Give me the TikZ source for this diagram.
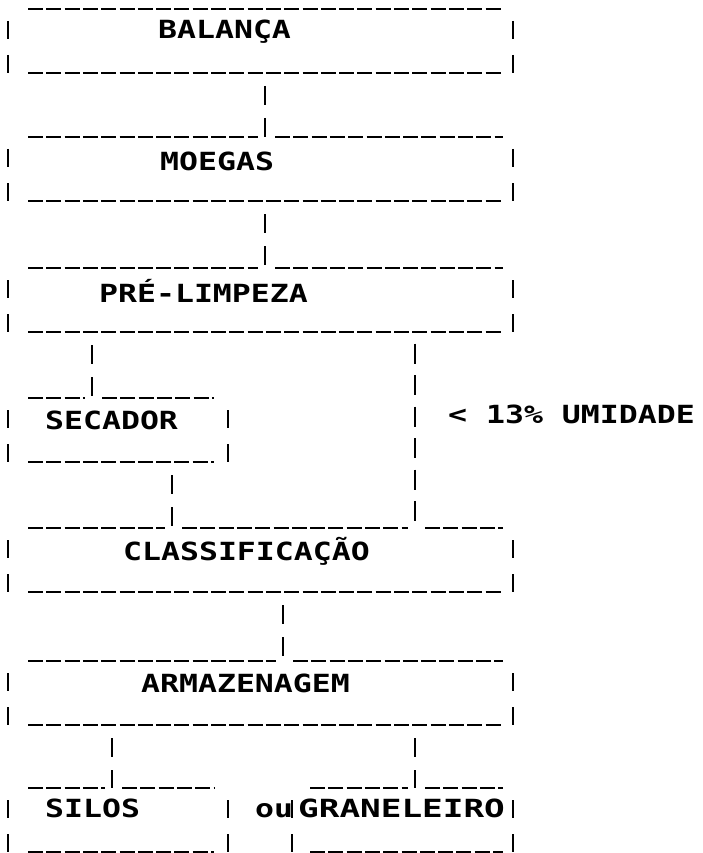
\documentclass[tikz,border=0pt]{standalone}
\usepackage{fontspec}
\newfontfamily\dotm[FakeStretch=1.26]{DejaVu Sans Mono}
\usetikzlibrary{calc}
\begin{document}
\begin{tikzpicture}[x=1pt,y=-1pt,
  us/.style={line width=2.5pt, dash pattern=on 15pt off 3.3pt},
  side/.style={line width=2.8pt, dash pattern=on 18pt off 16pt on 18pt off 12pt, dash phase=52pt},
  conn/.style={line width=2.8pt, dash pattern=on 19pt off 13pt, dash phase=19pt},
  longconn/.style={line width=2.8pt, dash pattern=on 20pt off 11.5pt, dash phase=20pt},
  boxn/.style={draw=none, inner sep=0pt, outer sep=0pt, minimum height=64pt},
  wide/.style={boxn, minimum width=505pt},
  half/.style={boxn, minimum width=220pt},
  txt/.style={inner sep=0pt, anchor=base west, font=\dotm\bfseries\fontsize{25}{25}\selectfont}
]
\useasboundingbox (0,0) rectangle (703,853);

% box nodes
\node[wide] (bal) at (260.5,41) {};
\node[wide] (moe) at (260.5,169) {};
\node[wide] (pre) at (260.5,300) {};
\node[half] (sec) at (118,430) {};
\node[wide] (cls) at (260.5,560) {};
\node[wide] (arm) at (260.5,693) {};
\node[half] (sil) at (118,820) {};
\node[boxn, minimum width=221pt] (gra) at (402.5,820) {};

% connector columns
\coordinate (kA) at (265,0);
\coordinate (kB) at (92,0);
\coordinate (kR) at (415,0);
\coordinate (kC) at (172,0);
\coordinate (kE) at (283,0);
\coordinate (kF) at (112,0);
\coordinate (kG) at (415,0);

% texts
\node[txt] (balT) at (158,39) {BALANÇA};
\node[txt] (moeT) at (160,171) {MOEGAS};
\node[txt] (preT) at (99,302) {PRÉ-LIMPEZA};
\node[txt] (secT) at (45,429) {SECADOR};
\node[txt] (umid) at (448,423) {< 13\% UMIDADE};
\node[txt] (clsT) at (123,560) {CLASSIFICAÇÃO};
\node[txt] (armT) at (141,692) {ARMAZENAGEM};
\node[txt] (silT) at (45,817) {SILOS};
\node[txt] (ouT) at (255,817) {ou};
\node[txt] (graT) at (298,817) {\scalebox{1.09}[1]{GRANELEIRO}};

% sides
\foreach \b in {bal,moe,pre,sec,cls,arm,sil,gra}{
  \draw[side] (\b.north west) -- (\b.south west);
  \draw[side] (\b.north east) -- (\b.south east);
}

% top lines
\draw[us] ($(bal.north west)+(20,0)$) -- ($(bal.north east)+(-10,0)$);
\draw[us] ($(moe.north west)+(20,0)$) -- ($(moe.north -| kA)+(-7,0)$);
\draw[us] ($(moe.north -| kA)+(10,0)$) -- ($(moe.north east)+(-10,0)$);
\draw[us] ($(pre.north west)+(20,0)$) -- ($(pre.north -| kA)+(-7,0)$);
\draw[us] ($(pre.north -| kA)+(10,0)$) -- ($(pre.north east)+(-10,0)$);
\draw[us] ($(sec.north west)+(20,0)$) -- ($(sec.north -| kB)+(-7,0)$);
\draw[us] ($(sec.north -| kB)+(10,0)$) -- ($(sec.north east)+(-14,0)$);
\draw[us] ($(cls.north west)+(20,0)$) -- ($(cls.north -| kC)+(-7,0)$);
\draw[us] ($(cls.north -| kC)+(10,0)$) -- ($(cls.north -| kR)+(-7,0)$);
\draw[us] ($(cls.north -| kR)+(10,0)$) -- ($(cls.north east)+(-10,0)$);
\draw[us] ($(arm.north west)+(20,0)$) -- ($(arm.north -| kE)+(-7,0)$);
\draw[us] ($(arm.north -| kE)+(10,0)$) -- ($(arm.north east)+(-10,0)$);
\draw[us] ($(sil.north west)+(20,0)$) -- ($(sil.north -| kF)+(-7,0)$);
\draw[us] ($(sil.north -| kF)+(10,0)$) -- ($(sil.north east)+(-14,0)$);
\draw[us] ($(gra.north west)+(18,0)$) -- ($(gra.north -| kG)+(-7,0)$);
\draw[us] ($(gra.north -| kG)+(10,0)$) -- ($(gra.north east)+(-10,0)$);

% bottom lines
\foreach \b in {bal,moe,pre,cls,arm}{
  \draw[us] ($(\b.south west)+(20,0)$) -- ($(\b.south east)+(-10,0)$);
}
\draw[us] ($(sec.south west)+(20,0)$) -- ($(sec.south east)+(-14,0)$);
\draw[us] ($(sil.south west)+(20,0)$) -- ($(sil.south east)+(-14,0)$);
\draw[us] ($(gra.south west)+(18,0)$) -- ($(gra.south east)+(-10,0)$);

% connectors
\draw[conn] (bal.south -| kA) -- (moe.north -| kA);
\draw[conn] (moe.south -| kA) -- (pre.north -| kA);
\draw[conn] (pre.south -| kB) -- (sec.north -| kB);
\draw[longconn] (pre.south -| kR) -- (cls.north -| kR);
\draw[conn] (sec.south -| kC) -- (cls.north -| kC);
\draw[conn] (cls.south -| kE) -- (arm.north -| kE);
\draw[conn] (arm.south -| kF) -- (sil.north -| kF);
\draw[conn] (arm.south -| kG) -- (gra.north -| kG);
\end{tikzpicture}
\end{document}
